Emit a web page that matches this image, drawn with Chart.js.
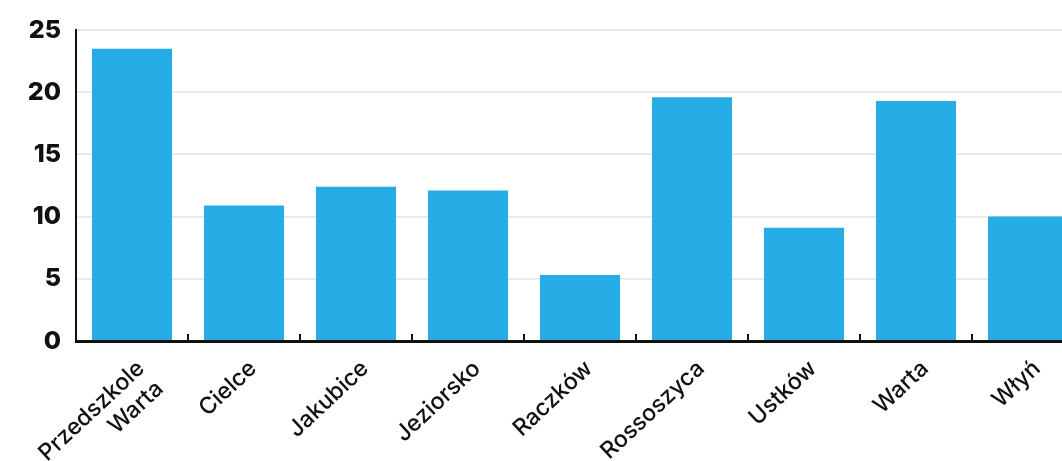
<!DOCTYPE html>
<html>
<head>
<meta charset="utf-8">
<script src="https://cdn.jsdelivr.net/npm/chart.js@4"></script>
<style>
  html, body { margin: 0; padding: 0; background: #fff; overflow: hidden; }
  #wrap { position: relative; width: 1086px; height: 461px; }
</style>
</head>
<body>
<div id="wrap"><canvas id="schoolsChart"></canvas></div>
<script>
const categories = [
    ['Przedszkole', 'Warta'], 'Cielce', 'Jakubice', 'Jeziorsko', 'Raczków',
    'Rossoszyca', 'Ustków', 'Warta', 'Włyń'
];
const values = [23.5, 10.9, 12.4, 12.1, 5.3, 19.6, 9.1, 19.3, 10.0];
const yTicks = [0, 5, 10, 15, 20, 25];

// short marks between the bars, pointing up from the axis
const innerTicks = {
    id: 'innerTicks',
    afterDatasetsDraw(chart) {
        const x = chart.scales.x;
        const ctx = chart.ctx;
        const bottom = chart.chartArea.bottom;
        ctx.save();
        ctx.strokeStyle = '#111';
        ctx.lineWidth = 2;
        for (let i = 1; i <= categories.length; i++) {
            const px = (x.getPixelForValue(i - 1) + x.getPixelForValue(i)) / 2;
            ctx.beginPath();
            ctx.moveTo(px, bottom - 7);
            ctx.lineTo(px, bottom);
            ctx.stroke();
        }
        ctx.restore();
    }
};

document.addEventListener('DOMContentLoaded', () => {
    const el = document.getElementById('schoolsChart');

    new Chart(el, {
        type: 'bar',
        data: {
            labels: categories,
            datasets: [{
                data: values,
                backgroundColor: '#26ace5',
                barPercentage: 0.715,
                categoryPercentage: 1,
            }],
        },
        options: {
            responsive: true,
            maintainAspectRatio: false,
            animation: false,
            layout: { padding: { top: 16, right: 2, left: 0, bottom: 0 } },
            plugins: {
                legend: { display: false },
                tooltip: { enabled: false },
            },
            scales: {
                x: {
                    grid: { display: false },
                    border: { color: '#111', width: 3 },
                    ticks: {
                        color: '#111',
                        font: { family: 'Inter', size: 23, weight: '500' },
                        minRotation: 43,
                        maxRotation: 43,
                        padding: 6,
                        labelOffset: 9,
                        autoSkip: false,
                    },
                    afterFit: s => { s.height = 120; },
                },
                y: {
                    min: 0,
                    max: 25,
                    afterBuildTicks: s => { s.ticks = yTicks.map(v => ({ value: v })); },
                    grid: { color: '#ebebeb', lineWidth: 2, drawTicks: false },
                    border: { color: '#111', width: 2 },
                    ticks: {
                        color: '#111',
                        font: { family: 'Inter', size: 25, weight: '800' },
                        padding: 15,
                    },
                    afterFit: s => { s.width = 76; },
                },
            },
        },
        plugins: [innerTicks],
    });
});
</script>
</body>
</html>
